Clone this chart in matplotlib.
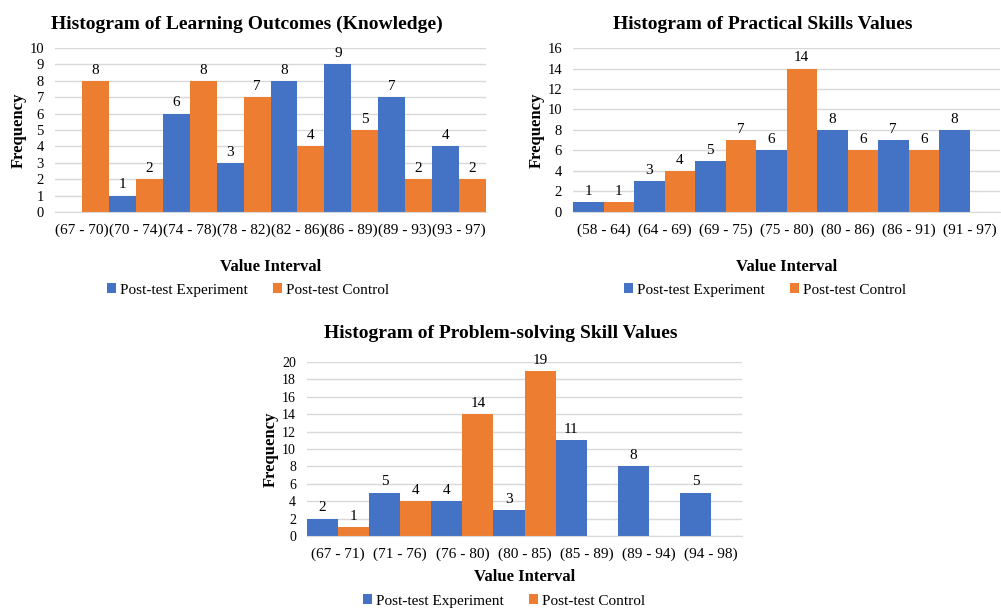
import matplotlib.pyplot as plt
import numpy as np

plt.rcParams['font.family'] = ['Liberation Serif', 'DejaVu Serif']

# data
k_bins = ['(67 - 70)', '(70 - 74)', '(74 - 78)', '(78 - 82)', '(82 - 86)', '(86 - 89)', '(89 - 93)', '(93 - 97)']
k_exp = [0, 1, 6, 3, 8, 9, 7, 4]
k_ctrl = [8, 2, 8, 7, 4, 5, 2, 2]

p_bins = ['(58 - 64)', '(64 - 69)', '(69 - 75)', '(75 - 80)', '(80 - 86)', '(86 - 91)', '(91 - 97)']
p_exp = [1, 3, 5, 6, 8, 7, 8]
p_ctrl = [1, 4, 7, 14, 6, 6, 0]

s_bins = ['(67 - 71)', '(71 - 76)', '(76 - 80)', '(80 - 85)', '(85 - 89)', '(89 - 94)', '(94 - 98)']
s_exp = [2, 5, 4, 3, 11, 8, 5]
s_ctrl = [1, 4, 14, 19, 0, 0, 0]

BLUE = '#4472C4'
ORANGE = '#ED7D31'
W, H = 1001, 608

fig = plt.figure(figsize=(W / 100, H / 100), dpi=100)


def px_axes(x0, x1, ytop, ybot):
    return fig.add_axes([x0 / W, 1 - ybot / H, (x1 - x0) / W, (ybot - ytop) / H])


def hist(ax, bins, exp, ctrl, ymax, step, title, tpad=14, ysize=10.5):
    x = np.arange(len(bins))
    b1 = ax.bar(x - 0.25, exp, 0.5, color=BLUE, label='Post-test Experiment')
    b2 = ax.bar(x + 0.25, ctrl, 0.5, color=ORANGE, label='Post-test Control')
    for bars, vals in ((b1, exp), (b2, ctrl)):
        ax.bar_label(bars, labels=[str(v) if v else '' for v in vals], padding=3, fontsize=11)
    ax.set_xlim(-0.5, len(bins) - 0.5)
    ax.set_ylim(0, ymax)
    ax.set_yticks(np.arange(0, ymax + 1, step))
    ax.set_xticks(x)
    ax.set_xticklabels(bins, fontsize=11)
    ax.tick_params(axis='y', labelsize=ysize, length=0, pad=8)
    ax.tick_params(axis='x', length=0, pad=8)
    ax.grid(axis='y', color='#D9D9D9', linewidth=1)
    ax.set_axisbelow(True)
    for s in ['top', 'right', 'left']:
        ax.spines[s].set_visible(False)
    ax.spines['bottom'].set_color('#D9D9D9')
    w = ax.get_position().width * W
    ax.set_title(title, fontsize=14, fontweight='bold', pad=tpad, x=0.5 - 24 / w)
    ax.set_ylabel('Frequency', fontsize=12, fontweight='bold', labelpad=2)
    ax.set_xlabel('Value Interval', fontsize=12, fontweight='bold', labelpad=16)


def legend(ax, cx, cy):
    ax.legend(loc='center', bbox_to_anchor=(cx / W, 1 - cy / H), bbox_transform=fig.transFigure,
              ncol=2, frameon=False, fontsize=11, handlelength=0.6, handleheight=0.6,
              handletextpad=0.3, columnspacing=1.6)


ax1 = px_axes(55, 486, 48, 212)
hist(ax1, k_bins, k_exp, k_ctrl, 10, 1, 'Histogram of Learning Outcomes (Knowledge)')
legend(ax1, 248, 290)

ax2 = px_axes(573, 1000, 48, 212)
hist(ax2, p_bins, p_exp, p_ctrl, 16, 2, 'Histogram of Practical Skills Values')
legend(ax2, 765, 290)

ax3 = px_axes(307, 742, 362, 536)
hist(ax3, s_bins, s_exp, s_ctrl, 20, 2, 'Histogram of Problem-solving Skill Values',
     tpad=17.5, ysize=10)
ax3.xaxis.labelpad = 6
legend(ax3, 504, 601)

fig.savefig('out.png', dpi=100)
